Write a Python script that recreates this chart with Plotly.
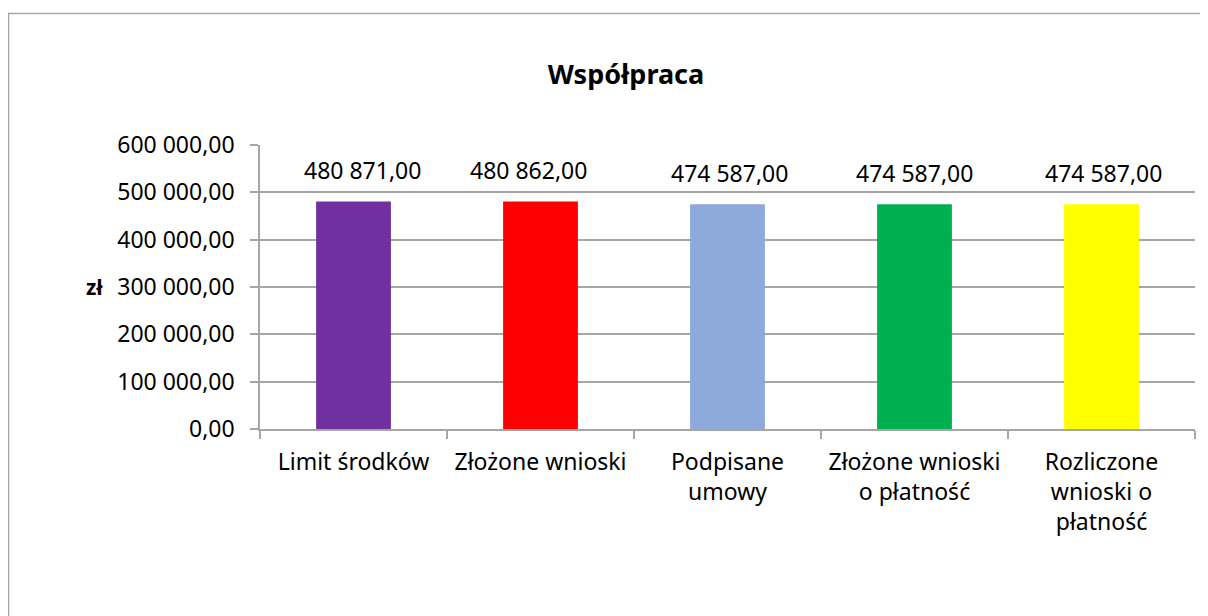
import plotly.graph_objects as go

categories = ["Limit środków", "Złożone wnioski", "Podpisane<br>umowy",
              "Złożone wnioski<br>o płatność", "Rozliczone<br>wnioski o<br>płatność"]
values = [480871.00, 480862.00, 474587.00, 474587.00, 474587.00]
colors = ["#7030A0", "#FF0000", "#8EA9DB", "#00B050", "#FFFF00"]
tick_values = [0, 100000, 200000, 300000, 400000, 500000, 600000]
label_xshift = [9, -12, 2, 0, 2]


def pl_fmt(v):
    s = f"{v:,.2f}"
    return s.replace(",", " ").replace(".", ",")


tick_text = [pl_fmt(v) for v in tick_values]
label_text = [pl_fmt(v) for v in values]

FONT = "Noto Sans"
OFF = 8  # page body margin
W, H = 1200, 608
# target pixel positions in the screenshot
PL, PR, PT, PB = 260, 1195, 145, 429
L, T = PL - OFF, PT - OFF
R = W - (PR - OFF)
B = H - (PB - OFF)
pw, ph = W - L - R, H - T - B


def px_x(x):
    return (x - OFF - L) / pw


def px_y(y):
    return (H - B - (y - OFF)) / ph


fig = go.Figure(go.Bar(
    x=categories, y=values, marker=dict(color=colors, line=dict(width=0)),
    width=0.4, hoverinfo="x+y",
))

for cat, val, txt, xs in zip(categories, values, label_text, label_xshift):
    fig.add_annotation(x=cat, y=val, xref="x", yref="y", text=txt, showarrow=False,
                       xanchor="center", yanchor="bottom", yshift=13, xshift=xs,
                       font=dict(family=FONT, size=23, color="#000000"))

fig.update_layout(
    width=W, height=H,
    margin=dict(l=L, r=R, t=T, b=B, autoexpand=False),
    paper_bgcolor="white", plot_bgcolor="white",
    showlegend=False,
    font=dict(family=FONT, size=23, color="#000000"),
    title=dict(text="<b>Współpraca</b>", x=px_x(626), xref="paper", xanchor="center",
               y=1 - (75 - OFF) / H, yanchor="middle", font=dict(family=FONT, size=27, color="#000000")),
)

fig.update_xaxes(
    type="category", showgrid=False, showline=True, linecolor="#a6a6a6", linewidth=1.5,
    ticks="outside", tickson="boundaries", ticklen=8, tickcolor="#a6a6a6", tickwidth=1.5,
    tickfont=dict(family=FONT, size=23, color="#000000"), ticklabelstandoff=12,
)
fig.update_yaxes(
    range=[0, 600000], tickvals=tick_values, ticktext=tick_text,
    showgrid=True, gridcolor="#a6a6a6", gridwidth=1.5,
    showline=True, linecolor="#a6a6a6", linewidth=1.5,
    ticks="outside", ticklen=8, tickcolor="#a6a6a6", tickwidth=1.5,
    tickfont=dict(family=FONT, size=23, color="#000000"), zeroline=False,
    ticklabelstandoff=11,
)

fig.add_annotation(text="<b>zł</b>", xref="paper", yref="paper", x=px_x(94), y=px_y(287),
                   xanchor="center", yanchor="middle", showarrow=False,
                   font=dict(family=FONT, size=21, color="#000000"))

fig.add_shape(type="rect", xref="paper", yref="paper",
              x0=px_x(8.5), y0=px_y(640), x1=px_x(1240), y1=px_y(13.5),
              line=dict(color="#a6a6a6", width=1.5), fillcolor="rgba(0,0,0,0)", layer="below")

fig.write_html("out.html")
